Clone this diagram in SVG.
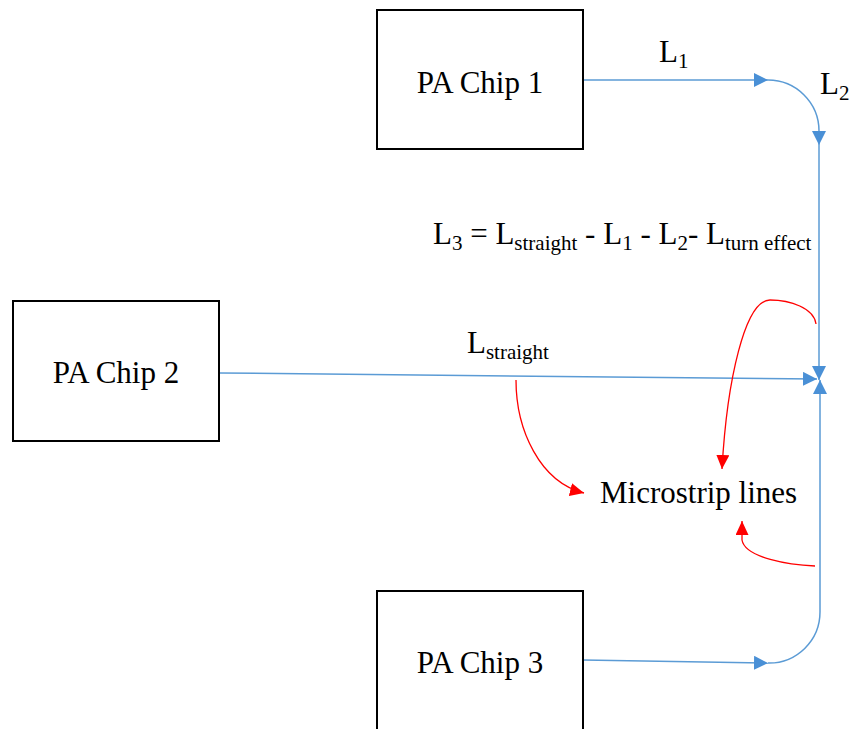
<svg xmlns="http://www.w3.org/2000/svg" width="850" height="729" viewBox="0 0 850 729">
<style>
.box{fill:#fff;stroke:#000;stroke-width:2}
.t{font-family:"Liberation Serif","Times New Roman",serif;font-size:31px;fill:#000}
.sub{font-size:21px}
.b{fill:none;stroke:#5B9BD5;stroke-width:1.5}
.r{fill:none;stroke:#FF0000;stroke-width:1.3}
</style>
<defs>
<marker id="ab" markerUnits="userSpaceOnUse" markerWidth="15" markerHeight="14" refX="14" refY="7" orient="auto"><path d="M0,0 L14,7 L0,14 z" fill="#4A90D6"/></marker>
<marker id="ar" markerUnits="userSpaceOnUse" markerWidth="15" markerHeight="13" refX="14" refY="6.5" orient="auto"><path d="M0,0 L14,6.5 L0,13 z" fill="#FF0000"/></marker>
</defs>
<rect width="850" height="729" fill="#fff"/>
<g id="connectors">
<path class="b" d="M583,80 H768" marker-end="url(#ab)"/>
<path class="b" d="M768,80 A51,51 0 0 1 819,131 V145" marker-end="url(#ab)"/>
<path class="b" d="M819,145 V380" marker-end="url(#ab)"/>
<path class="b" d="M219,373 L817,379" marker-end="url(#ab)"/>
<path class="b" d="M583,660 L768,663" marker-end="url(#ab)"/>
<path class="b" d="M768,663 A51,51 0 0 0 820,612 V380" marker-end="url(#ab)"/>
<path class="r" d="M816,324 C814,308 790,300 770,300 C745,300 727,380 722,469" marker-end="url(#ar)"/>
<path class="r" d="M516,380 C516,430 540,482 584,493" marker-end="url(#ar)"/>
<path class="r" d="M815,566 C790,565 745,558 742,540 L742,521" marker-end="url(#ar)"/>
</g>
<g id="chip1"><rect class="box" x="377" y="10" width="206" height="139"/><text class="t" x="480" y="93" text-anchor="middle">PA Chip 1</text></g>
<g id="chip2"><rect class="box" x="13" y="301" width="206" height="140"/><text class="t" x="116" y="383" text-anchor="middle">PA Chip 2</text></g>
<g id="chip3"><rect class="box" x="377" y="591" width="206" height="145"/><text class="t" x="480" y="673" text-anchor="middle">PA Chip 3</text></g>
<g id="labels">
<text class="t" x="659" y="62">L<tspan class="sub" dy="6">1</tspan></text>
<text class="t" x="820" y="94">L<tspan class="sub" dy="6">2</tspan></text>
<text class="t" x="433" y="244">L<tspan class="sub" dy="6">3</tspan><tspan dy="-6"> = L</tspan><tspan class="sub" dy="6">straight</tspan><tspan dy="-6"> - L</tspan><tspan class="sub" dy="6">1</tspan><tspan dy="-6"> - L</tspan><tspan class="sub" dy="6">2</tspan><tspan dy="-6">- L</tspan><tspan class="sub" dy="6">turn effect</tspan></text>
<text class="t" x="467" y="353">L<tspan class="sub" dy="6">straight</tspan></text>
<text class="t" x="600" y="503">Microstrip lines</text>
</g>
</svg>
